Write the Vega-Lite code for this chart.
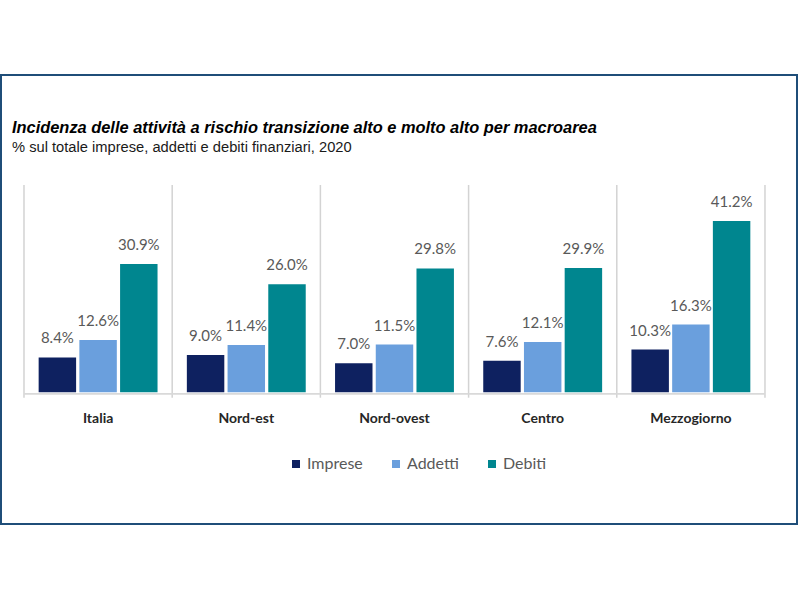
{
  "$schema": "https://vega.github.io/schema/vega-lite/v6.json",
  "width": 796,
  "height": 449,
  "autosize": "none",
  "padding": {"left": 1, "top": 75, "right": 3, "bottom": 76},
  "background": "white",
  "config": {
    "view": {"stroke": "#1f4e79", "strokeWidth": 2}
  },
  "title": {
    "text": "Incidenza delle attività a rischio transizione alto e molto alto per macroarea",
    "subtitle": "% sul totale imprese, addetti e debiti finanziari, 2020",
    "anchor": "start",
    "orient": "top",
    "offset": -80,
    "dx": 11,
    "font": "Liberation Sans",
    "fontStyle": "italic",
    "fontWeight": "bold",
    "fontSize": 16.4,
    "color": "#000000",
    "subtitleFont": "Liberation Sans",
    "subtitleFontSize": 14.7,
    "subtitleColor": "#1a1a1a",
    "subtitlePadding": 4
  },
  "data": {
    "values": [
      {"region": "Italia", "series": "Imprese", "value": 8.4},
      {"region": "Italia", "series": "Addetti", "value": 12.6},
      {"region": "Italia", "series": "Debiti", "value": 30.9},
      {"region": "Nord-est", "series": "Imprese", "value": 9.0},
      {"region": "Nord-est", "series": "Addetti", "value": 11.4},
      {"region": "Nord-est", "series": "Debiti", "value": 26.0},
      {"region": "Nord-ovest", "series": "Imprese", "value": 7.0},
      {"region": "Nord-ovest", "series": "Addetti", "value": 11.5},
      {"region": "Nord-ovest", "series": "Debiti", "value": 29.8},
      {"region": "Centro", "series": "Imprese", "value": 7.6},
      {"region": "Centro", "series": "Addetti", "value": 12.1},
      {"region": "Centro", "series": "Debiti", "value": 29.9},
      {"region": "Mezzogiorno", "series": "Imprese", "value": 10.3},
      {"region": "Mezzogiorno", "series": "Addetti", "value": 16.3},
      {"region": "Mezzogiorno", "series": "Debiti", "value": 41.2}
    ]
  },
  "encoding": {
    "x": {
      "field": "region",
      "type": "nominal",
      "scale": {
        "domain": ["Italia", "Nord-est", "Nord-ovest", "Centro", "Mezzogiorno"],
        "paddingInner": 0,
        "paddingOuter": 0.1856,
        "align": 0.418
      },
      "axis": null
    }
  },
  "layer": [
    {
      "transform": [{"filter": "datum.series === 'Imprese'"}],
      "mark": {"type": "rule", "color": "#d3d3d3", "strokeWidth": 1.5},
      "encoding": {
        "x": {"field": "region", "type": "nominal", "bandPosition": 0},
        "y": {"datum": 49.9, "type": "quantitative", "scale": {"domain": [-31.7, 76.37], "nice": false, "zero": false}, "axis": null},
        "y2": {"datum": -1.3}
      }
    },
    {
      "transform": [{"filter": "datum.series === 'Imprese' && datum.region === 'Mezzogiorno'"}],
      "mark": {"type": "rule", "color": "#d3d3d3", "strokeWidth": 1.5},
      "encoding": {
        "x": {"field": "region", "type": "nominal", "bandPosition": 1},
        "y": {"datum": 49.9, "type": "quantitative"},
        "y2": {"datum": -1.3}
      }
    },
    {
      "transform": [{"filter": "datum.series === 'Imprese'"}],
      "mark": {"type": "bar", "color": "#d9d9d9"},
      "encoding": {
        "y": {"datum": -0.15, "type": "quantitative"},
        "y2": {"datum": -0.6}
      }
    },
    {
      "mark": {"type": "bar"},
      "encoding": {
        "xOffset": {
          "field": "series",
          "type": "nominal",
          "scale": {"domain": ["Imprese", "Addetti", "Debiti"], "paddingInner": 0.08, "paddingOuter": 0.36}
        },
        "y": {"field": "value", "type": "quantitative"},
        "color": {
          "field": "series",
          "type": "nominal",
          "scale": {"domain": ["Imprese", "Addetti", "Debiti"], "range": ["#0e2160", "#6a9fdd", "#00868f"]},
          "legend": {
            "orient": "none",
            "legendX": 287,
            "legendY": 381,
            "direction": "horizontal",
            "title": null,
            "symbolType": "square",
            "symbolSize": 64,
            "symbolStrokeWidth": 0,
            "labelFont": "Lato",
            "labelFontSize": 16,
            "labelColor": "#595959",
            "labelOffset": 3,
            "columnPadding": 25
          }
        }
      }
    },
    {
      "transform": [{"calculate": "format(datum.value, '.1f') + '%'", "as": "label"}],
      "mark": {"type": "text", "baseline": "alphabetic", "dy": -14, "font": "Lato", "fontSize": 15, "color": "#595959"},
      "encoding": {
        "xOffset": {"field": "series", "type": "nominal"},
        "y": {"field": "value", "type": "quantitative"},
        "text": {"field": "label"}
      }
    },
    {
      "transform": [{"filter": "datum.series === 'Imprese'"}],
      "mark": {"type": "text", "baseline": "middle", "font": "Lato", "fontWeight": "bold", "fontSize": 14, "color": "#262626"},
      "encoding": {
        "y": {"datum": -6.4, "type": "quantitative"},
        "text": {"field": "region"}
      }
    }
  ]
}
